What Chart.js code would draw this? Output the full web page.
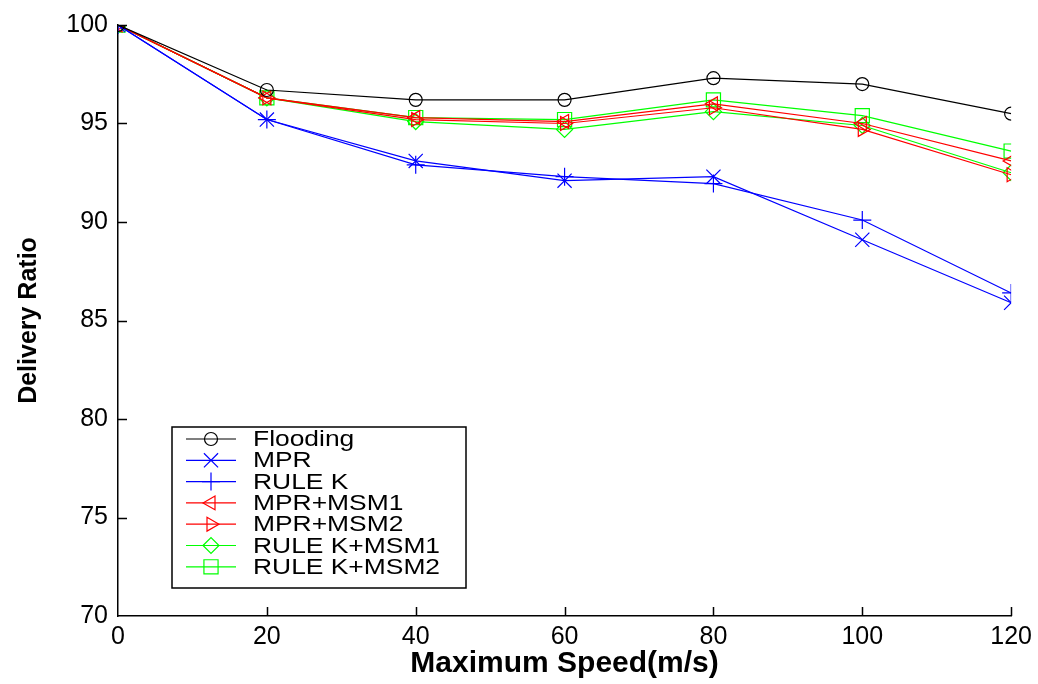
<!DOCTYPE html>
<html>
<head>
<meta charset="utf-8">
<script src="https://cdn.jsdelivr.net/npm/chart.js@4.4.0/dist/chart.umd.min.js"></script>
<style>
  html, body { margin: 0; padding: 0; background: #fff; }
  #wrap { width: 1038px; height: 684px; }
</style>
</head>
<body>
<div id="wrap"><canvas id="chart" width="1038" height="684"></canvas></div>
<script>
// Maximum speed (m/s)
var speeds = [0, 20, 40, 60, 80, 100, 120];

// Delivery ratio per protocol
var flooding  = [100, 96.7, 96.2, 96.2, 97.3, 97.0, 95.5];
var mpr       = [100, 95.2, 93.1, 92.1, 92.3, 89.1, 85.9];
var ruleK     = [100, 95.2, 92.9, 92.3, 91.95, 90.1, 86.4];
var mprMsm1   = [100, 96.3, 95.3, 95.1, 96.0, 95.0, 93.1];
var mprMsm2   = [100, 96.3, 95.2, 95.0, 95.8, 94.7, 92.4];
var ruleKMsm1 = [100, 96.3, 95.1, 94.7, 95.6, 94.9, 92.5];
var ruleKMsm2 = [100, 96.3, 95.3, 95.2, 96.2, 95.4, 93.6];

var seriesNames = ['Flooding', 'MPR', 'RULE K', 'MPR+MSM1', 'MPR+MSM2', 'RULE K+MSM1', 'RULE K+MSM2'];
var seriesData = [flooding, mpr, ruleK, mprMsm1, mprMsm2, ruleKMsm1, ruleKMsm2];

var yTicks = [70, 75, 80, 85, 90, 95, 100];
var xTicks = [0, 20, 40, 60, 80, 100, 120];

// marker look for each series
var styles = [
  { color: '#000000', point: 'circle',   radius: 6.5, rot: 0 },
  { color: '#0000ff', point: 'crossRot', radius: 10,  rot: 0 },
  { color: '#0000ff', point: 'cross',    radius: 9,   rot: 0 },
  { color: '#ff0000', point: 'triangle', radius: 8,   rot: -90 },
  { color: '#ff0000', point: 'triangle', radius: 8,   rot: 90 },
  { color: '#00ff00', point: 'rectRot',  radius: 8,   rot: 0 },
  { color: '#00ff00', point: 'rect',     radius: 10,  rot: 0 }
];

function toPoints(values) {
  return values.map(function(v, i) { return { x: speeds[i], y: v }; });
}

var datasets = seriesData.map(function(values, i) {
  var s = styles[i];
  return {
    label: seriesNames[i],
    data: toPoints(values),
    borderColor: s.color,
    borderWidth: 1.2,
    pointStyle: s.point,
    pointRadius: s.radius,
    pointHoverRadius: s.radius,
    pointRotation: s.rot,
    pointBorderColor: s.color,
    pointBackgroundColor: 'rgba(0,0,0,0)',
    pointBorderWidth: 1.2,
    tension: 0,
    fill: false
  };
});

// inward tick marks, like the original figure
var inwardTicks = {
  id: 'inwardTicks',
  afterDraw: function(chart) {
    var ctx = chart.ctx;
    var xs = chart.scales.x, ys = chart.scales.y;
    var area = chart.chartArea;
    ctx.save();
    ctx.strokeStyle = '#000';
    ctx.lineWidth = 1.5;
    ctx.beginPath();
    xTicks.forEach(function(t) {
      if (t === 0) return;
      var px = Math.round(xs.getPixelForValue(t)) + 0.5;
      ctx.moveTo(px, area.bottom);
      ctx.lineTo(px, area.bottom - 9);
    });
    yTicks.forEach(function(t) {
      if (t === 70) return;
      var py = Math.round(ys.getPixelForValue(t)) + 0.5;
      ctx.moveTo(area.left, py);
      ctx.lineTo(area.left + 9, py);
    });
    ctx.stroke();
    ctx.restore();
  }
};

function legendPoint(ctx, ds, x, y) {
  ctx.save();
  ctx.strokeStyle = ds.borderColor;
  ctx.fillStyle = 'rgba(0,0,0,0)';
  ctx.lineWidth = 1.2;
  Chart.helpers.drawPoint(ctx, {
    pointStyle: ds.pointStyle,
    rotation: ds.pointRotation,
    radius: ds.pointRadius,
    borderWidth: 1.2
  }, x, y);
  ctx.restore();
}

// boxed legend in the lower left corner of the plot
var boxLegend = {
  id: 'boxLegend',
  afterDraw: function(chart) {
    var ctx = chart.ctx;
    var area = chart.chartArea;
    var left = area.left + 54, top = area.bottom - 189;
    var w = 294, h = 161;
    ctx.save();
    ctx.fillStyle = '#fff';
    ctx.fillRect(left, top, w, h);
    ctx.strokeStyle = '#000';
    ctx.lineWidth = 1.5;
    ctx.strokeRect(left, top, w, h);
    chart.data.datasets.forEach(function(ds, i) {
      var y = top + 12 + i * 21.3;
      ctx.strokeStyle = ds.borderColor;
      ctx.lineWidth = 1.2;
      ctx.beginPath();
      ctx.moveTo(left + 14, y);
      ctx.lineTo(left + 64, y);
      ctx.stroke();
      legendPoint(ctx, ds, left + 39, y);
      ctx.save();
      ctx.translate(left + 81, y);
      ctx.scale(1.2, 1);
      ctx.fillStyle = '#000';
      ctx.font = '22px "Liberation Sans", Arial, sans-serif';
      ctx.textBaseline = 'middle';
      ctx.fillText(ds.label, 0, 1);
      ctx.restore();
    });
    ctx.restore();
  }
};

var tickFont = { family: '"Liberation Sans", Arial, sans-serif', size: 25 };

var ctx = document.getElementById('chart').getContext('2d');
var chart = new Chart(ctx, {
  type: 'line',
  data: { datasets: datasets },
  plugins: [inwardTicks, boxLegend],
  options: {
    responsive: false,
    animation: false,
    layout: { padding: { top: 22, right: 26, left: 0, bottom: 0 } },
    plugins: {
      legend: { display: false },
      tooltip: { enabled: false }
    },
    scales: {
      x: {
        type: 'linear',
        min: 0,
        max: 120,
        afterBuildTicks: function(scale) {
          scale.ticks = xTicks.map(function(v) { return { value: v }; });
        },
        afterFit: function(scale) { scale.height = 68; },
        grid: { display: true, drawOnChartArea: false, drawTicks: false },
        border: { display: true, color: '#000', width: 1.5 },
        ticks: { color: '#000', font: tickFont, padding: 6, maxRotation: 0 },
        title: {
          display: true,
          text: 'Maximum Speed(m/s)',
          color: '#000',
          font: { family: '"Liberation Sans", Arial, sans-serif', size: 30, weight: 'bold' },
          padding: { top: 0, bottom: 2 }
        }
      },
      y: {
        type: 'linear',
        min: 70,
        max: 100,
        afterBuildTicks: function(scale) {
          scale.ticks = yTicks.map(function(v) { return { value: v }; });
        },
        afterFit: function(scale) { scale.width = 118; },
        grid: { display: true, drawOnChartArea: false, drawTicks: false },
        border: { display: true, color: '#000', width: 1.5 },
        ticks: { color: '#000', font: tickFont, padding: 10 },
        title: {
          display: true,
          text: 'Delivery Ratio',
          color: '#000',
          font: { family: '"Liberation Sans", Arial, sans-serif', size: 25, weight: 'bold' },
          padding: { top: 14, bottom: 0 }
        }
      }
    }
  }
});
</script>
</body>
</html>
